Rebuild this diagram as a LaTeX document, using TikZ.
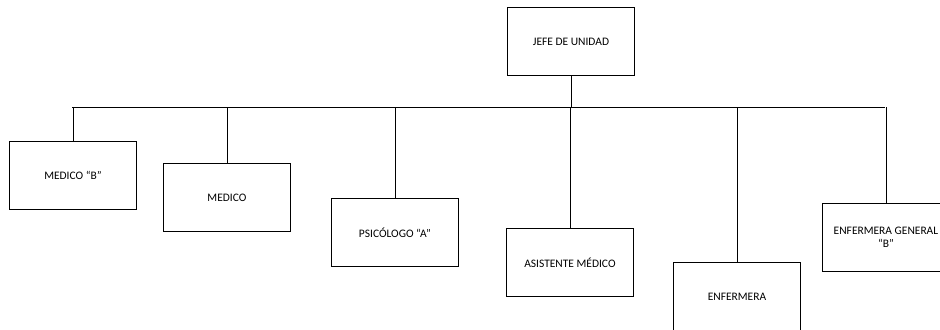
\documentclass[tikz,border=0pt]{standalone}
\usepackage{fontspec}
\setmainfont{Carlito}
\begin{document}
\begin{tikzpicture}[x=0.75pt,y=-0.75pt,
  box/.style={draw=black,line width=0.7pt,minimum width=127*0.75pt,minimum height=68*0.75pt,inner sep=1pt,align=center,font=\fontsize{8.6}{10}\selectfont,anchor=north west},
  conn/.style={draw=black,line width=0.7pt}]
\useasboundingbox (0,0) rectangle (940,329);
\clip (0,0) rectangle (940,329);
\node[box] (jefe) at (507,7) {JEFE DE UNIDAD};
\node[box] (mb) at (9,141) {MEDICO “B”};
\node[box] (med) at (163,163) {MEDICO};
\node[box] (psi) at (331,198) {PSICÓLOGO “A”};
\node[box] (asi) at (506,228) {ASISTENTE MÉDICO};
\node[box] (enf) at (673,262) {ENFERMERA};
\node[box] (eg) at (822,203) {ENFERMERA GENERAL\\“B”};
\coordinate (busL) at (72,107);
\coordinate (busR) at (885,107);
\draw[conn] (busL) -- (busR);
\draw[conn] (jefe.south) -- (jefe.south |- busL);
\draw[conn] (asi.north) -- (asi.north |- busL);
\draw[conn] (mb.north) -- (mb.north |- busL);
\draw[conn] (med.north) -- (med.north |- busL);
\draw[conn] (psi.north) -- (psi.north |- busL);
\draw[conn] (enf.north) -- (enf.north |- busL);
\draw[conn] (eg.north) -- (eg.north |- busL);
\end{tikzpicture}
\end{document}
